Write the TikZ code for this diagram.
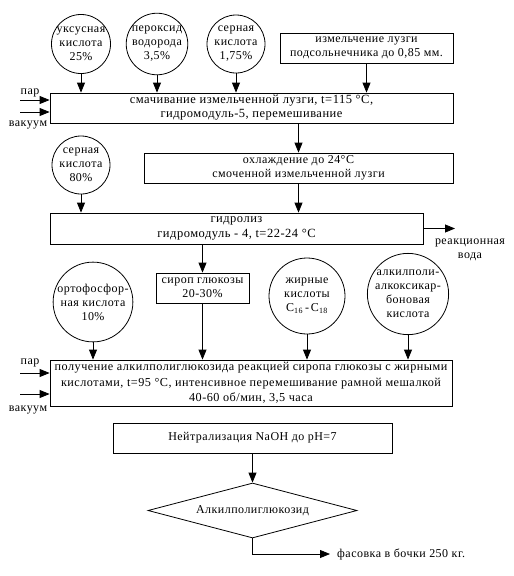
\documentclass[tikz,border=0pt]{standalone}
\usepackage{fontspec}
\setmainfont[LetterSpace=4]{Liberation Serif}
\usetikzlibrary{arrows.meta,shapes.geometric}
\begin{document}
\begin{tikzpicture}[x=1pt,y=-1pt,
  every node/.style={font=\fontsize{12}{14}\selectfont},
  bigtext/.style={font=\fontsize{12.5}{14}\selectfont},
  boxn/.style={draw,rectangle,align=center,inner sep=0pt,line width=0.8pt},
  circn/.style={draw,circle,align=center,inner sep=0pt,line width=0.8pt},
  arr/.style={line width=0.8pt,-{Triangle[length=10pt,width=8pt]}},
  lbl/.style={inner sep=0pt}]
\useasboundingbox (0,0) rectangle (514,576);
% top circles
\node[circn,minimum size=58pt] (c1) at (81,44) {уксусная\\кислота\\25\%};
\node[circn,minimum size=58pt] (c2) at (157,44) {пероксид\\водорода\\3,5\%};
\node[circn,minimum size=58pt] (c3) at (236,44) {серная\\кислота\\1,75\%};
\node[boxn,minimum width=173pt,minimum height=30pt] (izm) at (366.5,48) {измельчение лузги\\подсольнечника до 0,85 мм.};
\node[boxn,bigtext,minimum width=403pt,minimum height=30pt] (wet) at (251.5,108) {смачивание измельченной лузги, t=115 °C,\\гидромодуль-5, перемешивание};
\coordinate (p1) at (20,100);
\coordinate (v1) at (20,112);
\node[lbl] (par1) at (30,93) {пар};
\node[lbl] (vac1) at (28,125) {вакуум};
\draw[arr] (p1) -- (p1 -| wet.west);
\draw[arr] (v1) -- (v1 -| wet.west);
\draw[arr] (c1.south) -- (c1.south |- wet.north);
\draw[arr] (c2.south) -- (c2.south |- wet.north);
\draw[arr] (c3.south) -- (c3.south |- wet.north);
\draw[arr] (izm.south) -- (izm.south |- wet.north);
% cooling
\node[boxn,minimum width=309pt,minimum height=30pt] (cool) at (298.5,168) {охлаждение до 24°C\\смоченной измельченной лузги};
\draw[arr] (cool.north |- wet.south) -- (cool.north);
\node[circn,minimum size=58pt] (c4) at (81,165) {серная\\кислота\\80\%};
% hydrolysis
\node[boxn,minimum width=373pt,minimum height=31pt,font=\fontsize{12.5}{14.5}\selectfont] (hyd) at (236.5,228.5) {гидролиз\\гидромодуль - 4, t=22-24 °C};
\draw[arr] (c4.south) -- (c4.south |- hyd.north);
\draw[arr] (cool.south) -- (cool.south |- hyd.north);
\coordinate (wout) at (455,228.5);
\draw[arr] (hyd.east) -- (wout);
\node[lbl,align=center] (water) at (470,250) {реакционная\\вода};
% syrup and circles
\node[boxn,minimum width=93pt,minimum height=30pt] (syr) at (202.5,288) {сироп глюкозы\\20-30\%};
\draw[arr] (syr.north |- hyd.south) -- (syr.north);
\node[circn,minimum size=76pt] (c5) at (93,302) {ортофосфор-\\ная кислота\\10\%};
\node[circn,minimum size=76pt] (c6) at (307,296) {жирные\\кислоты\\C\textsubscript{16}\,-\,C\textsubscript{18}};
\node[circn,minimum size=76pt] (c7) at (408,294) {алкилполи-\\алкоксикар-\\боновая\\кислота};
\node[boxn,minimum width=402pt,minimum height=46pt,font=\fontsize{12.2}{15.5}\selectfont] (main) at (251,383) {получение алкилполиглюкозида реакцией сиропа глюкозы с жирными\\кислотами, t=95 °C, интенсивное перемешивание рамной мешалкой\\40-60 об/мин, 3,5 часа};
\draw[arr] (c5.south) -- (c5.south |- main.north);
\draw[arr] (syr.south) -- (syr.south |- main.north);
\draw[arr] (c6.south) -- (c6.south |- main.north);
\draw[arr] (c7.south) -- (c7.south |- main.north);
\coordinate (p2) at (20,373);
\coordinate (v2) at (20,394);
\node[lbl] (par2) at (30,363) {пар};
\node[lbl] (vac2) at (28,410) {вакуум};
\draw[arr] (p2) -- (p2 -| main.west);
\draw[arr] (v2) -- (v2 -| main.west);
% neutralization
\node[boxn,minimum width=279pt,minimum height=30pt] (neut) at (252.5,438) {Нейтрализация NaOH до pH=7};
\node[draw,diamond,aspect=3.8,minimum width=209pt,minimum height=55pt,inner sep=0pt,line width=0.8pt] (diam) at (252.5,510.5) {Алкилполиглюкозид};
\draw[arr] (neut.south) -- (diam.north);
\coordinate (fas) at (330,554);
\draw[arr] (diam.south) |- (fas);
\node[lbl,anchor=west] (fastxt) at (337,554) {фасовка в бочки 250 кг.};
\end{tikzpicture}
\end{document}
